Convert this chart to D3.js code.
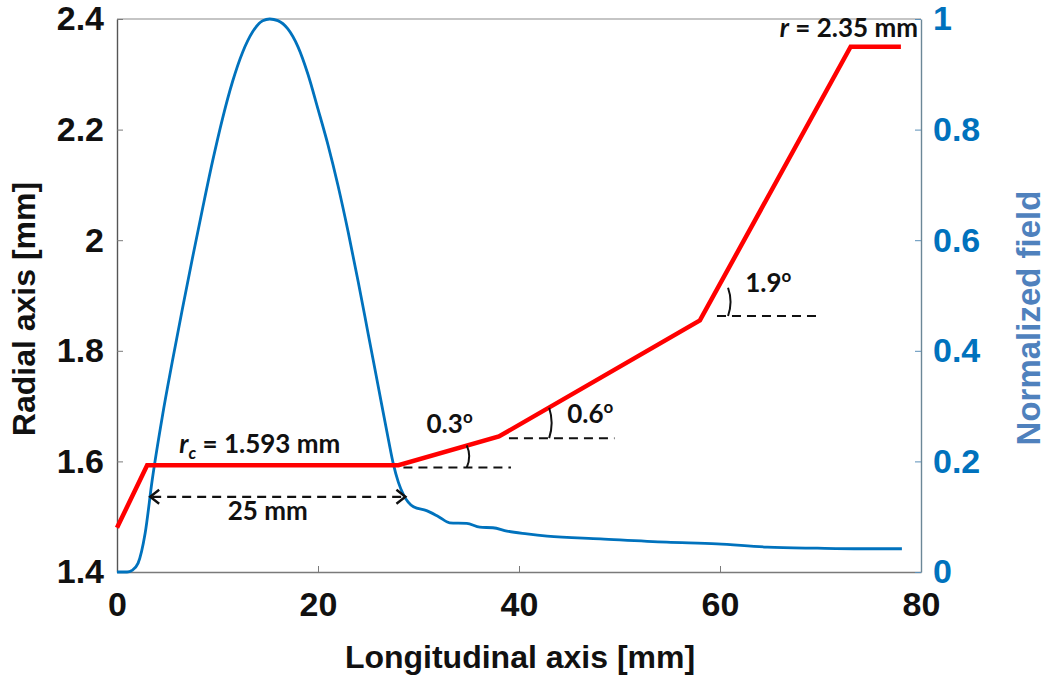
<!DOCTYPE html>
<html><head><meta charset="utf-8">
<script src="https://cdn.jsdelivr.net/npm/d3@7"></script>
<style>
body{margin:0;background:#fff;}
svg{display:block;}
</style></head><body>
<svg id="chart" width="1050" height="683"></svg>
<script>
// ---- data ----
const radiusX = [0, 3, 28, 38, 58, 73, 78];
const radiusR = [1.48, 1.593, 1.593, 1.645, 1.855, 2.35, 2.35];

const fieldX = [0, 1.0, 1.5, 2.1, 2.8, 3.5, 4.5, 5.5, 6.5, 7.5, 8.5, 9.5, 10.5, 11.5, 12.5, 13.5, 14.5, 15.2, 16.0, 17.0, 18.0, 19.0, 20.0, 21.0, 22.0, 23.0, 24.0, 25.0, 26.0, 27.0, 27.5, 28.0, 28.5, 29.5, 30.8, 32.0, 33.1, 34.8, 36.1, 37.4, 38.8, 40.8, 42.8, 48.1, 54.7, 59.7, 64.7, 69.7, 74.0, 78.1];
const fieldV = [0, 0, 0.003, 0.016, 0.07, 0.166, 0.28, 0.38, 0.475, 0.567, 0.656, 0.742, 0.82, 0.887, 0.94, 0.977, 0.997, 1.0, 0.997, 0.982, 0.95, 0.9, 0.837, 0.772, 0.698, 0.615, 0.525, 0.43, 0.335, 0.24, 0.195, 0.162, 0.14, 0.118, 0.111, 0.1, 0.089, 0.088, 0.081, 0.08, 0.074, 0.069, 0.065, 0.060, 0.054, 0.051, 0.045, 0.043, 0.042, 0.042];

const xTicks = [0, 20, 40, 60, 80];
const xTickLabels = ["0", "20", "40", "60", "80"];
const leftTicks = [1.4, 1.6, 1.8, 2.0, 2.2, 2.4];
const leftTickLabels = ["1.4", "1.6", "1.8", "2", "2.2", "2.4"];
const rightTicks = [0, 0.2, 0.4, 0.6, 0.8, 1];
const rightTickLabels = ["0", "0.2", "0.4", "0.6", "0.8", "1"];

// dashed reference lines [x0, x1, r]
const refLineX0 = [28.5, 39, 59.7];
const refLineX1 = [39.2, 49.5, 70];
const refLineR = [1.589, 1.642, 1.863];
// angle arcs [x, rTop, rBottom]
const arcX = [34.9, 43.1, 60.9];
const arcTop = [1.629, 1.697, 1.914];
const arcBottom = [1.589, 1.642, 1.863];
const angleLabels = ["0.3", "0.6", "1.9"];
const angleLabelX = [30.8, 44.8, 62.5];
const angleLabelR = [1.651, 1.669, 1.906];
// 25 mm span arrow
const spanX = [3.3, 28.7];
const spanR = 1.536;

// ---- layout ----
const W = 1050, H = 683;
const m = {left: 117, right: 129, top: 19, bottom: 111};
const svg = d3.select("#chart");
svg.append("rect").attr("width", W).attr("height", H).attr("fill", "#fff");

const x = d3.scaleLinear().domain([0, 80]).range([m.left, W - m.right]);
const yL = d3.scaleLinear().domain([1.4, 2.4]).range([H - m.bottom, m.top]);
const yR = d3.scaleLinear().domain([0, 1]).range([H - m.bottom, m.top]);

const tickFont = "'Liberation Sans', Arial, sans-serif";
const annFont = "Lato, 'Open Sans', sans-serif";
const blue = "#0072BD";

// top border
svg.append("line").attr("x1", x(0)).attr("x2", x(80)).attr("y1", yL(2.4)).attr("y2", yL(2.4))
  .attr("stroke", "#8c8c8c").attr("stroke-width", 1.2);

// bottom axis
const gx = svg.append("g").attr("transform", `translate(0,${yL(1.4)})`)
  .call(d3.axisBottom(x).tickValues(xTicks).tickFormat((d, i) => xTickLabels[i]).tickSizeInner(-6).tickSizeOuter(0).tickPadding(20));
gx.select(".domain").attr("stroke", "#7a7a7a").attr("stroke-width", 1.4);
gx.selectAll(".tick line").attr("stroke", "#7a7a7a");
gx.selectAll("text").attr("font-family", tickFont).attr("font-weight", "bold").attr("font-size", 34).attr("fill", "#111");

// left axis
const gl = svg.append("g").attr("transform", `translate(${x(0)},0)`)
  .call(d3.axisLeft(yL).tickValues(leftTicks).tickFormat((d, i) => leftTickLabels[i]).tickSizeInner(-6).tickSizeOuter(0).tickPadding(13));
gl.select(".domain").attr("stroke", "#555").attr("stroke-width", 1.4);
gl.selectAll(".tick line").attr("stroke", "#7a7a7a");
gl.selectAll("text").attr("font-family", tickFont).attr("font-weight", "bold").attr("font-size", 34).attr("fill", "#111");

// right axis
const gr = svg.append("g").attr("transform", `translate(${x(80)},0)`)
  .call(d3.axisRight(yR).tickValues(rightTicks).tickFormat((d, i) => rightTickLabels[i]).tickSizeInner(-6).tickSizeOuter(0).tickPadding(12));
gr.select(".domain").attr("stroke", "#6b8797").attr("stroke-width", 1.4);
gr.selectAll(".tick line").attr("stroke", "#5b8fb8");
gr.selectAll("text").attr("font-family", tickFont).attr("font-weight", "bold").attr("font-size", 34).attr("fill", blue);

// axis titles
svg.append("text").attr("x", (x(0) + x(80)) / 2 + 1).attr("y", 668).attr("text-anchor", "middle")
  .attr("font-family", tickFont).attr("font-weight", "bold").attr("font-size", 32).attr("fill", "#111")
  .text("Longitudinal axis [mm]");
svg.append("text").attr("transform", `translate(35,${309}) rotate(-90)`).attr("text-anchor", "middle")
  .attr("font-family", tickFont).attr("font-weight", "bold").attr("font-size", 32).attr("fill", "#111")
  .text("Radial axis [mm]");
svg.append("text").attr("transform", `translate(1040,${318}) rotate(-90)`).attr("text-anchor", "middle")
  .attr("font-family", tickFont).attr("font-weight", "bold").attr("font-size", 33).attr("fill", "#4f81bd")
  .text("Normalized field");

// field curve
const fieldData = fieldX.map((d, i) => [d, fieldV[i]]);
svg.append("path").datum(fieldData)
  .attr("d", d3.line().x(d => x(d[0])).y(d => yR(d[1])).curve(d3.curveMonotoneX))
  .attr("fill", "none").attr("stroke", blue).attr("stroke-width", 2.8);

// radius profile
const radData = radiusX.map((d, i) => [d, radiusR[i]]);
svg.append("path").datum(radData)
  .attr("d", d3.line().x(d => x(d[0])).y(d => yL(d[1])))
  .attr("fill", "none").attr("stroke", "#ff0000").attr("stroke-width", 4.5).attr("stroke-linejoin", "miter");

// dashed reference lines
refLineR.forEach((r, i) => {
  svg.append("line").attr("x1", x(refLineX0[i])).attr("x2", x(refLineX1[i]))
    .attr("y1", yL(r)).attr("y2", yL(r))
    .attr("stroke", "#111").attr("stroke-width", 2).attr("stroke-dasharray", "9,6");
});

// angle arcs
arcX.forEach((ax, i) => {
  const x0 = x(ax), y0 = yL(arcTop[i]), y1 = yL(arcBottom[i]);
  const p = d3.path();
  p.moveTo(x0 - 1, y0);
  p.quadraticCurveTo(x0 + 4, (y0 + y1) / 2, x0 - 1, y1);
  svg.append("path").attr("d", p.toString()).attr("fill", "none").attr("stroke", "#111").attr("stroke-width", 2);
});

// angle labels
angleLabels.forEach((t, i) => {
  const tx = svg.append("text").attr("x", x(angleLabelX[i])).attr("y", yL(angleLabelR[i]))
    .attr("font-family", annFont).attr("font-weight", "bold").attr("font-size", 26).attr("fill", "#111");
  tx.append("tspan").text(t);
  tx.append("tspan").attr("font-size", 17).attr("dy", -10).text("o");
});

// span arrow
const ay = yL(spanR), ax0 = x(spanX[0]), ax1 = x(spanX[1]);
svg.append("line").attr("x1", ax0 + 2).attr("x2", ax1 - 2).attr("y1", ay).attr("y2", ay)
  .attr("stroke", "#111").attr("stroke-width", 2.2).attr("stroke-dasharray", "9,6");
svg.append("path").attr("d", `M${ax0 + 9},${ay - 7} L${ax0},${ay} L${ax0 + 9},${ay + 7}`)
  .attr("fill", "none").attr("stroke", "#111").attr("stroke-width", 2.4);
svg.append("path").attr("d", `M${ax1 - 9},${ay - 7} L${ax1},${ay} L${ax1 - 9},${ay + 7}`)
  .attr("fill", "none").attr("stroke", "#111").attr("stroke-width", 2.4);

svg.append("text").attr("x", x(15.0)).attr("y", yL(1.494)).attr("text-anchor", "middle")
  .attr("font-family", annFont).attr("font-weight", "bold").attr("font-size", 26).attr("fill", "#111")
  .text("25 mm");

// rc label
const rc = svg.append("text").attr("x", x(6.2)).attr("y", yL(1.615))
  .attr("font-family", annFont).attr("font-weight", "bold").attr("font-size", 26).attr("fill", "#111");
rc.append("tspan").attr("font-style", "italic").text("r");
rc.append("tspan").attr("font-style", "italic").attr("font-size", 17).attr("dy", 6).text("c");
rc.append("tspan").attr("dy", -6).text(" = 1.593 mm");

// r label
const rl = svg.append("text").attr("x", x(79.7)).attr("y", yL(2.367)).attr("text-anchor", "end")
  .attr("font-family", annFont).attr("font-weight", "bold").attr("font-size", 26).attr("fill", "#111");
rl.append("tspan").attr("font-style", "italic").text("r");
rl.append("tspan").text(" = 2.35 mm");
</script>
</body></html>
